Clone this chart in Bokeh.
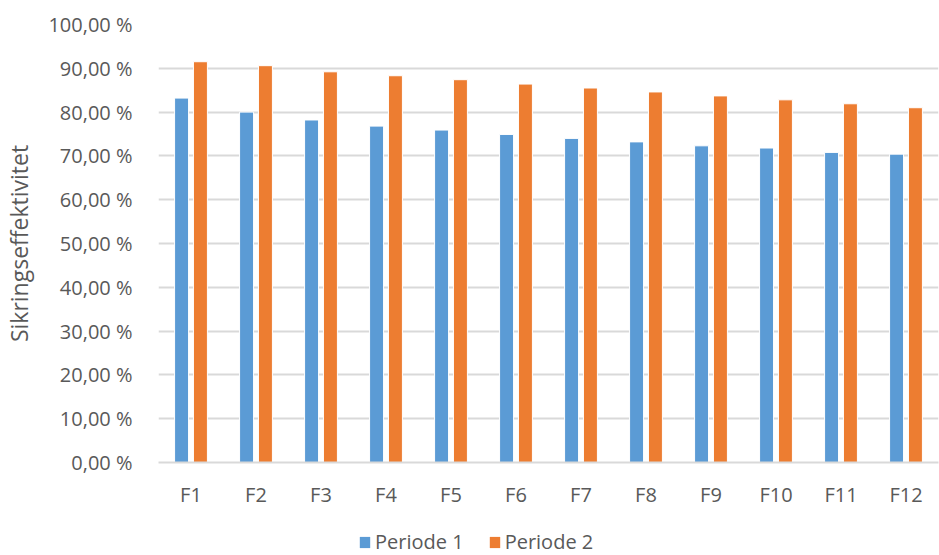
from bokeh.plotting import figure
from bokeh.layouts import column
from bokeh.models import ColumnDataSource, CustomJSTickFormatter, Legend, LegendItem, FactorRange
from bokeh.transform import dodge
from bokeh.embed import file_html
from bokeh.resources import INLINE

# Hedge effectiveness per forward contract, two periods (percent)
categories = ["F1", "F2", "F3", "F4", "F5", "F6", "F7", "F8", "F9", "F10", "F11", "F12"]
periode_1 = [83.2, 80.0, 78.2, 76.8, 75.9, 74.9, 74.0, 73.2, 72.3, 71.8, 70.8, 70.4]
periode_2 = [91.5, 90.6, 89.2, 88.3, 87.4, 86.4, 85.5, 84.6, 83.7, 82.8, 81.9, 81.0]
series_names = ["Periode 1", "Periode 2"]
y_label = "Sikringseffektivitet"

BLUE = "#5B9BD5"
ORANGE = "#ED7D31"
TEXT = "#595959"
GRID = "#D9D9D9"
FONT = "Open Sans"
COLORS = [BLUE, ORANGE]

source = ColumnDataSource(dict(cat=categories, p1=periode_1, p2=periode_2))

p = figure(
    x_range=FactorRange(*categories, range_padding=0),
    y_range=(0, 100),
    width=939, height=525,
    output_backend="svg", toolbar_location=None,
    min_border_left=157, min_border_right=1, min_border_top=24, min_border_bottom=63,
    outline_line_color=None,
)

p.vbar(x=dodge("cat", -0.145, range=p.x_range), top="p1", width=0.215, source=source,
       fill_color=BLUE, line_color="white", line_width=1)
p.vbar(x=dodge("cat", 0.145, range=p.x_range), top="p2", width=0.215, source=source,
       fill_color=ORANGE, line_color="white", line_width=1)

# y axis: "90,00 %" style ticks
p.yaxis.ticker = list(range(0, 101, 10))
p.yaxis.formatter = CustomJSTickFormatter(code="return tick.toFixed(2).replace('.', ',') + ' %';")
p.yaxis.axis_line_color = None
p.yaxis.major_tick_line_color = None
p.yaxis.minor_tick_line_color = None
p.yaxis.major_label_standoff = 20
p.yaxis.major_label_text_font = FONT
p.yaxis.major_label_text_font_size = "20px"
p.yaxis.major_label_text_color = TEXT
p.yaxis.axis_label = y_label
p.yaxis.axis_label_text_font = FONT
p.yaxis.axis_label_text_font_size = "23px"
p.yaxis.axis_label_text_font_style = "normal"
p.yaxis.axis_label_text_color = TEXT
p.yaxis.axis_label_standoff = 10

# x axis
p.xaxis.axis_line_color = GRID
p.xaxis.axis_line_width = 2
p.xaxis.major_tick_line_color = None
p.xaxis.minor_tick_line_color = None
p.xaxis.major_label_standoff = 12
p.xaxis.major_label_text_font = FONT
p.xaxis.major_label_text_font_size = "20px"
p.xaxis.major_label_text_color = TEXT

p.xgrid.grid_line_color = None
p.ygrid.grid_line_color = GRID
p.ygrid.grid_line_width = 2

# legend strip below the chart; swatch renderers sit outside the visible range
leg = figure(width=939, height=30, output_backend="svg", toolbar_location=None,
             x_range=(0, 1), y_range=(0, 1), outline_line_color=None,
             min_border_left=0, min_border_right=0, min_border_top=0, min_border_bottom=0)
leg.axis.visible = False
leg.grid.grid_line_color = None
hidden = ColumnDataSource(dict(x=[-5.0], top=[-5.0]))
swatches = [leg.vbar(x="x", top="top", width=0.1, source=hidden, fill_color=c, line_color=None)
            for c in COLORS]
legend = Legend(
    items=[LegendItem(label=n, renderers=[r]) for n, r in zip(series_names, swatches)],
    orientation="horizontal", location=(200, 0),
    label_text_font=FONT, label_text_font_size="20px", label_text_color=TEXT,
    glyph_width=13, glyph_height=14, label_standoff=4, spacing=24,
    label_height=20,
    border_line_color=None, background_fill_alpha=0, margin=0, padding=0,
)
leg.add_layout(legend, "center")

layout = column(p, leg, spacing=0)
open("out.html", "w").write(file_html(layout, INLINE))
